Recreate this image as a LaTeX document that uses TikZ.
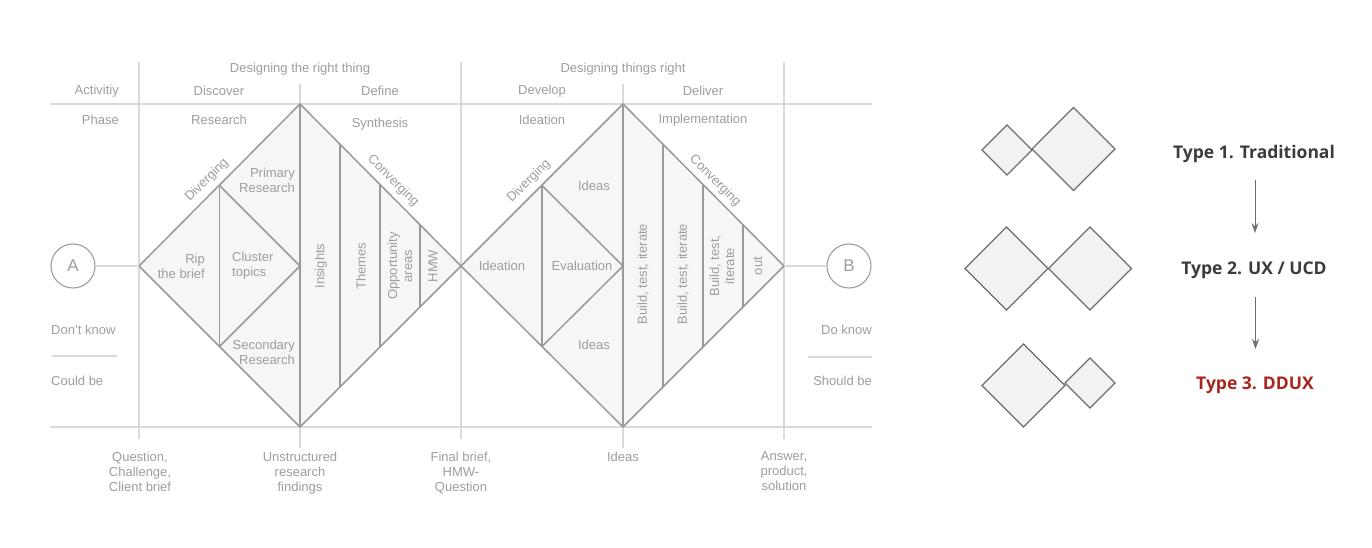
\documentclass[tikz,border=0pt]{standalone}
\usepackage{fontspec}
\setmainfont{Liberation Sans}
\newfontfamily\typefont{Open Sans}
\usetikzlibrary{arrows.meta}
\definecolor{txt}{HTML}{9E9E9E}
\definecolor{gridc}{HTML}{DADADA}
\definecolor{dlinec}{HTML}{9A9A9A}
\definecolor{dfillc}{HTML}{F6F6F6}
\definecolor{sfillc}{HTML}{F2F2F2}
\definecolor{slinec}{HTML}{6E6E6E}
\definecolor{tdark}{HTML}{3C3C3C}
\definecolor{tred}{HTML}{A8251C}
\begin{document}
\begin{tikzpicture}[x=1pt,y=-1pt,
  lbl/.style={text=txt,font=\fontsize{13}{15}\selectfont,inner sep=0pt,align=center},
  gridline/.style={draw=gridc,line width=1.2pt},
  dia/.style={draw=dlinec,fill=dfillc,line width=1.5pt,line join=miter},
  innerline/.style={draw=dlinec,line width=1.5pt},
  circ/.style={circle,draw=txt,line width=1.1pt,minimum size=44pt,inner sep=0pt,text=txt,font=\fontsize{17}{17}\selectfont},
  sdia/.style={draw=slinec,fill=sfillc,line width=1.3pt,line join=miter},
  typelbl/.style={font=\typefont\bfseries\fontsize{17.5}{20}\selectfont,text=tdark,inner sep=0pt},
  arr/.style={draw=slinec,line width=0.9pt,-{Stealth[length=10pt,width=7pt]}}]
\useasboundingbox[fill=white] (0,0) rectangle (1372,548);

% grid
\draw[gridline] (50,104) -- (872,104);
\draw[gridline] (50,427) -- (872,427);
\draw[gridline] (139,62) -- (139,439);
\draw[gridline] (461,62) -- (461,439);
\draw[gridline] (784,62) -- (784,439);
\draw[gridline] (300,84) -- (300,104);
\draw[gridline] (300,427) -- (300,448);
\draw[gridline] (623,84) -- (623,104);
\draw[gridline] (623,427) -- (623,448);
\draw[gridline] (52,356) -- (117,356);
\draw[gridline] (808,357) -- (872,357);

% diamond 1
\coordinate (d1l) at (139,266);
\coordinate (d1t) at (300,104);
\coordinate (d1r) at (461,266);
\coordinate (d1b) at (300,427);
\draw[dia] (d1l) -- (d1t) -- (d1r) -- (d1b) -- cycle;
\draw[innerline] (219.5,185.5) -- (219.5,346.5);
\draw[innerline] (219.5,185.5) -- (300,266) -- (219.5,346.5);
\draw[innerline] (d1t) -- (d1b);
\draw[innerline] (340,144) -- (340,387);
\draw[innerline] (380,184.5) -- (380,346.5);
\draw[innerline] (420,224.5) -- (420,307);

% diamond 2
\coordinate (d2l) at (461,266);
\coordinate (d2t) at (623,104);
\coordinate (d2r) at (784,266);
\coordinate (d2b) at (623,427);
\draw[dia] (d2l) -- (d2t) -- (d2r) -- (d2b) -- cycle;
\draw[innerline] (542,185.5) -- (542,346.5);
\draw[innerline] (542,185.5) -- (623,266) -- (542,346.5);
\draw[innerline] (d2t) -- (d2b);
\draw[innerline] (663,144) -- (663,387);
\draw[innerline] (703,184.5) -- (703,346.5);
\draw[innerline] (743,224.5) -- (743,307);

% A and B
\node[circ] (A) at (73,266) {A};
\node[circ] (B) at (849,266) {B};
\draw[gridline] (A) -- (d1l);
\draw[gridline] (d2r) -- (B);

% header labels
\node[lbl,anchor=east] (act) at (119,91) {Activitiy};
\node[lbl,anchor=east] (pha) at (119,120) {Phase};
\node[lbl] (dr1) at (300,69) {Designing the right thing};
\node[lbl] (dr2) at (623,69) {Designing things right};
\node[lbl] (disc) at (219,91) {Discover};
\node[lbl] (defi) at (380,91) {Define};
\node[lbl] (deve) at (542,91) {Develop};
\node[lbl] (deli) at (703,91) {Deliver};
\node[lbl] (rese) at (219,120) {Research};
\node[lbl] (synt) at (380,124) {Synthesis};
\node[lbl] (idea) at (542,120) {Ideation};
\node[lbl] (impl) at (703,120) {Implementation};

% diamond 1 labels
\node[lbl,rotate=45] (div1) at (207,180) {Diverging};
\node[lbl,rotate=-45] (con1) at (393,181) {Converging};
\node[lbl,align=right,anchor=east] (prim) at (295,180) {Primary\\Research};
\node[lbl,align=right,anchor=east] (rip) at (205,266) {Rip\\the brief};
\node[lbl,align=left,anchor=west] (clus) at (232,266) {Cluster\\topics};
\node[lbl,align=right,anchor=east] (seco) at (295,352) {Secondary\\Research};
\node[lbl,rotate=90] (insi) at (321,266) {Insights};
\node[lbl,rotate=90] (them) at (361,266) {Themes};
\node[lbl,rotate=90] (oppo) at (400,266) {Opportunity\\areas};
\node[lbl,rotate=90] (hmw) at (433,266) {HMW};

% diamond 2 labels
\node[lbl,rotate=45] (div2) at (529,181) {Diverging};
\node[lbl,rotate=-45] (con2) at (715,181) {Converging};
\node[lbl] (ideas1) at (594,186) {Ideas};
\node[lbl] (ideas2) at (594,345) {Ideas};
\node[lbl] (idn) at (502,266) {Ideation};
\node[lbl] (eval) at (582,266) {Evaluation};
\node[lbl,rotate=90] (bti1) at (643,274) {Build, test, iterate};
\node[lbl,rotate=90] (bti2) at (683,274) {Build, test, iterate};
\node[lbl,rotate=90] (bti3) at (722,266) {Build, test,\\iterate};
\node[lbl,rotate=90] (out) at (758,266) {out};

% side labels
\node[lbl,anchor=west] (dk) at (51,330) {Don't know};
\node[lbl,anchor=west] (cb) at (51,381) {Could be};
\node[lbl,anchor=east] (dok) at (872,330) {Do know};
\node[lbl,anchor=east] (sb) at (872,381) {Should be};

% bottom labels
\node[lbl,anchor=north] (q) at (140,451.5) {Question,\\Challenge,\\Client brief};
\node[lbl,anchor=north] (u) at (300,451.5) {Unstructured\\research\\findings};
\node[lbl,anchor=north] (f) at (461,451.5) {Final brief,\\HMW-\\Question};
\node[lbl,anchor=north] (i) at (623,451.5) {Ideas};
\node[lbl,anchor=north] (ans) at (784,451.5) {Answer,\\product,\\solution};

% right side
\draw[sdia,shift={(1007,150)}] (-25,0) -- (0,-25) -- (25,0) -- (0,25) -- cycle;
\draw[sdia,shift={(1073.5,149)}] (-41.5,0) -- (0,-41.5) -- (41.5,0) -- (0,41.5) -- cycle;
\draw[sdia,shift={(1006.5,268.5)}] (-41.5,0) -- (0,-41.5) -- (41.5,0) -- (0,41.5) -- cycle;
\draw[sdia,shift={(1090,268.5)}] (-41.5,0) -- (0,-41.5) -- (41.5,0) -- (0,41.5) -- cycle;
\draw[sdia,shift={(1023.5,385.5)}] (-41.5,0) -- (0,-41.5) -- (41.5,0) -- (0,41.5) -- cycle;
\draw[sdia,shift={(1090,383)}] (-25,0) -- (0,-25) -- (25,0) -- (0,25) -- cycle;

\node[typelbl] (t1) at (1254,154) {Type 1. Traditional};
\node[typelbl] (t2) at (1254,270) {Type 2. UX / UCD};
\node[typelbl,text=tred] (t3) at (1255,385) {Type 3. DDUX};
\draw[arr] ([xshift=1pt,yshift=-26pt]t1.center) -- ([xshift=1pt,yshift=37pt]t2.center);
\draw[arr] ([xshift=1.5pt,yshift=-27pt]t2.center) -- ([xshift=0.5pt,yshift=36pt]t3.center);
\end{tikzpicture}
\end{document}
